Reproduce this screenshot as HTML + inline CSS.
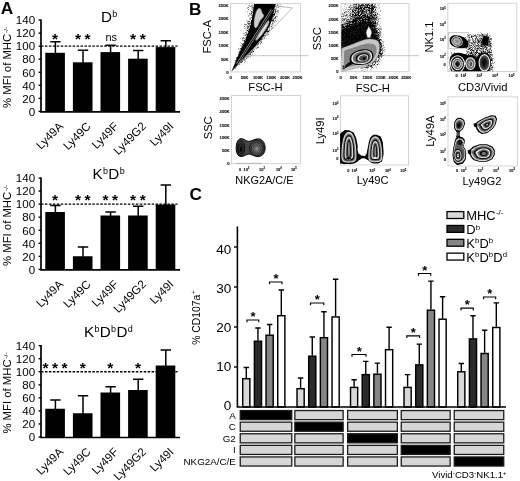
<!DOCTYPE html>
<html lang="en"><head><meta charset="utf-8"><title>Figure</title>
<style>
html,body{margin:0;padding:0;background:#fff;}
body{width:520px;height:481px;overflow:hidden;}
svg{display:block;font-family:"Liberation Sans", Arial, Helvetica, sans-serif;}
</style></head><body>
<svg width="520" height="481" viewBox="0 0 520 481">
<rect width="520" height="481" fill="#fff"/>
<g id="panelA">
<text transform="translate(0.80,14.10)" font-size="17.2" text-anchor="start" font-weight="bold" fill="#000">A</text>
<rect x="45.30" y="52.80" width="19.6" height="59.10" fill="#000"/>
<path d="M55.40 53.30V41.80M50.20 41.80H60.60" stroke="#000" stroke-width="1.5" fill="none"/>
<rect x="72.90" y="62.30" width="19.6" height="49.60" fill="#000"/>
<path d="M83.00 62.80V50.30M77.80 50.30H88.20" stroke="#000" stroke-width="1.5" fill="none"/>
<rect x="100.50" y="52.10" width="19.6" height="59.80" fill="#000"/>
<path d="M110.60 52.60V45.20M105.40 45.20H115.80" stroke="#000" stroke-width="1.5" fill="none"/>
<rect x="128.10" y="58.70" width="19.6" height="53.20" fill="#000"/>
<path d="M138.20 59.20V50.60M133.00 50.60H143.40" stroke="#000" stroke-width="1.5" fill="none"/>
<rect x="155.70" y="47.10" width="19.6" height="64.80" fill="#000"/>
<path d="M165.80 47.60V40.80M160.60 40.80H171.00" stroke="#000" stroke-width="1.5" fill="none"/>
<path d="M41.0 19.45V112.30M40.10 111.90H180" stroke="#000" stroke-width="1.7" fill="none"/>
<path d="M38.6 111.40H41.0" stroke="#000" stroke-width="1.4"/>
<text transform="translate(35.20,115.65) scale(1.15,1)" font-size="10.1" text-anchor="end" fill="#000">0</text>
<path d="M38.6 98.35H41.0" stroke="#000" stroke-width="1.4"/>
<text transform="translate(35.20,102.60) scale(1.15,1)" font-size="10.1" text-anchor="end" fill="#000">20</text>
<path d="M38.6 85.30H41.0" stroke="#000" stroke-width="1.4"/>
<text transform="translate(35.20,89.55) scale(1.15,1)" font-size="10.1" text-anchor="end" fill="#000">40</text>
<path d="M38.6 72.25H41.0" stroke="#000" stroke-width="1.4"/>
<text transform="translate(35.20,76.50) scale(1.15,1)" font-size="10.1" text-anchor="end" fill="#000">60</text>
<path d="M38.6 59.20H41.0" stroke="#000" stroke-width="1.4"/>
<text transform="translate(35.20,63.45) scale(1.15,1)" font-size="10.1" text-anchor="end" fill="#000">80</text>
<path d="M38.6 46.15H41.0" stroke="#000" stroke-width="1.4"/>
<text transform="translate(35.20,50.40) scale(1.15,1)" font-size="10.1" text-anchor="end" fill="#000">100</text>
<path d="M38.6 33.10H41.0" stroke="#000" stroke-width="1.4"/>
<text transform="translate(35.20,37.35) scale(1.15,1)" font-size="10.1" text-anchor="end" fill="#000">120</text>
<path d="M38.6 20.05H41.0" stroke="#000" stroke-width="1.4"/>
<text transform="translate(35.20,24.30) scale(1.15,1)" font-size="10.1" text-anchor="end" fill="#000">140</text>
<path d="M41.0 46.15H177.5" stroke="#000" stroke-width="1.3" stroke-dasharray="2.5 1.45" fill="none"/>
<text transform="translate(11.00,67.40) rotate(-90) scale(1.1,1)" font-size="10.3" text-anchor="middle" fill="#000">% MFI of MHC<tspan font-size="6" dx="0.7" dy="-3.5">-/-</tspan></text>
<text transform="translate(101.00,21.70)" font-size="15.2" text-anchor="start" fill="#000">D<tspan font-size="9" dx="0.35" dy="-4.6">b</tspan></text>
<text transform="translate(56.85,44.10)" font-size="15.5" text-anchor="middle" font-weight="bold" fill="#000" letter-spacing="3.5">*</text>
<text transform="translate(84.45,44.10)" font-size="15.5" text-anchor="middle" font-weight="bold" fill="#000" letter-spacing="3.5">**</text>
<text transform="translate(111.20,40.80)" font-size="11" text-anchor="middle" fill="#000">ns</text>
<text transform="translate(139.65,44.10)" font-size="15.5" text-anchor="middle" font-weight="bold" fill="#000" letter-spacing="3.5">**</text>
<text transform="translate(63.90,127.00) rotate(-45)" font-size="11.6" text-anchor="end" fill="#000">Ly49A</text>
<text transform="translate(91.50,127.00) rotate(-45)" font-size="11.6" text-anchor="end" fill="#000">Ly49C</text>
<text transform="translate(119.10,127.00) rotate(-45)" font-size="11.6" text-anchor="end" fill="#000">Ly49F</text>
<text transform="translate(146.70,127.00) rotate(-45)" font-size="11.6" text-anchor="end" fill="#000">Ly49G2</text>
<text transform="translate(174.30,127.00) rotate(-45)" font-size="11.6" text-anchor="end" fill="#000">Ly49I</text>
<rect x="45.30" y="212.00" width="19.6" height="57.90" fill="#000"/>
<path d="M55.40 212.50V205.40M50.20 205.40H60.60" stroke="#000" stroke-width="1.5" fill="none"/>
<rect x="72.90" y="256.25" width="19.6" height="13.65" fill="#000"/>
<path d="M83.00 256.75V247.00M77.80 247.00H88.20" stroke="#000" stroke-width="1.5" fill="none"/>
<rect x="100.50" y="215.50" width="19.6" height="54.40" fill="#000"/>
<path d="M110.60 216.00V212.00M105.40 212.00H115.80" stroke="#000" stroke-width="1.5" fill="none"/>
<rect x="128.10" y="215.50" width="19.6" height="54.40" fill="#000"/>
<path d="M138.20 216.00V206.25M133.00 206.25H143.40" stroke="#000" stroke-width="1.5" fill="none"/>
<rect x="155.70" y="204.50" width="19.6" height="65.40" fill="#000"/>
<path d="M165.80 205.00V185.00M160.60 185.00H171.00" stroke="#000" stroke-width="1.5" fill="none"/>
<path d="M41.0 177.45V270.30M40.10 269.90H180" stroke="#000" stroke-width="1.7" fill="none"/>
<path d="M38.6 269.40H41.0" stroke="#000" stroke-width="1.4"/>
<text transform="translate(35.20,273.65) scale(1.15,1)" font-size="10.1" text-anchor="end" fill="#000">0</text>
<path d="M38.6 256.35H41.0" stroke="#000" stroke-width="1.4"/>
<text transform="translate(35.20,260.60) scale(1.15,1)" font-size="10.1" text-anchor="end" fill="#000">20</text>
<path d="M38.6 243.30H41.0" stroke="#000" stroke-width="1.4"/>
<text transform="translate(35.20,247.55) scale(1.15,1)" font-size="10.1" text-anchor="end" fill="#000">40</text>
<path d="M38.6 230.25H41.0" stroke="#000" stroke-width="1.4"/>
<text transform="translate(35.20,234.50) scale(1.15,1)" font-size="10.1" text-anchor="end" fill="#000">60</text>
<path d="M38.6 217.20H41.0" stroke="#000" stroke-width="1.4"/>
<text transform="translate(35.20,221.45) scale(1.15,1)" font-size="10.1" text-anchor="end" fill="#000">80</text>
<path d="M38.6 204.15H41.0" stroke="#000" stroke-width="1.4"/>
<text transform="translate(35.20,208.40) scale(1.15,1)" font-size="10.1" text-anchor="end" fill="#000">100</text>
<path d="M38.6 191.10H41.0" stroke="#000" stroke-width="1.4"/>
<text transform="translate(35.20,195.35) scale(1.15,1)" font-size="10.1" text-anchor="end" fill="#000">120</text>
<path d="M38.6 178.05H41.0" stroke="#000" stroke-width="1.4"/>
<text transform="translate(35.20,182.30) scale(1.15,1)" font-size="10.1" text-anchor="end" fill="#000">140</text>
<path d="M41.0 204.15H177.5" stroke="#000" stroke-width="1.3" stroke-dasharray="2.5 1.45" fill="none"/>
<text transform="translate(11.00,225.40) rotate(-90) scale(1.1,1)" font-size="10.3" text-anchor="middle" fill="#000">% MFI of MHC<tspan font-size="6" dx="0.7" dy="-3.5">-/-</tspan></text>
<text transform="translate(92.50,179.00)" font-size="15.2" text-anchor="start" fill="#000">K<tspan font-size="9" dx="0.35" dy="-4.6">b</tspan><tspan dx="0.35" dy="4.6">&#8203;</tspan>D<tspan font-size="9" dx="0.35" dy="-4.6">b</tspan></text>
<text transform="translate(56.85,204.50)" font-size="15.5" text-anchor="middle" font-weight="bold" fill="#000" letter-spacing="3.5">*</text>
<text transform="translate(84.45,204.50)" font-size="15.5" text-anchor="middle" font-weight="bold" fill="#000" letter-spacing="3.5">**</text>
<text transform="translate(112.05,204.50)" font-size="15.5" text-anchor="middle" font-weight="bold" fill="#000" letter-spacing="3.5">**</text>
<text transform="translate(139.65,204.50)" font-size="15.5" text-anchor="middle" font-weight="bold" fill="#000" letter-spacing="3.5">**</text>
<text transform="translate(63.90,285.00) rotate(-45)" font-size="11.6" text-anchor="end" fill="#000">Ly49A</text>
<text transform="translate(91.50,285.00) rotate(-45)" font-size="11.6" text-anchor="end" fill="#000">Ly49C</text>
<text transform="translate(119.10,285.00) rotate(-45)" font-size="11.6" text-anchor="end" fill="#000">Ly49F</text>
<text transform="translate(146.70,285.00) rotate(-45)" font-size="11.6" text-anchor="end" fill="#000">Ly49G2</text>
<text transform="translate(174.30,285.00) rotate(-45)" font-size="11.6" text-anchor="end" fill="#000">Ly49I</text>
<rect x="45.30" y="408.75" width="19.6" height="28.75" fill="#000"/>
<path d="M55.40 409.25V400.00M50.20 400.00H60.60" stroke="#000" stroke-width="1.5" fill="none"/>
<rect x="72.90" y="413.25" width="19.6" height="24.25" fill="#000"/>
<path d="M83.00 413.75V395.75M77.80 395.75H88.20" stroke="#000" stroke-width="1.5" fill="none"/>
<rect x="100.50" y="392.50" width="19.6" height="45.00" fill="#000"/>
<path d="M110.60 393.00V386.75M105.40 386.75H115.80" stroke="#000" stroke-width="1.5" fill="none"/>
<rect x="128.10" y="390.00" width="19.6" height="47.50" fill="#000"/>
<path d="M138.20 390.50V379.25M133.00 379.25H143.40" stroke="#000" stroke-width="1.5" fill="none"/>
<rect x="155.70" y="365.50" width="19.6" height="72.00" fill="#000"/>
<path d="M165.80 366.00V350.00M160.60 350.00H171.00" stroke="#000" stroke-width="1.5" fill="none"/>
<path d="M41.0 345.05V437.90M40.10 437.50H180" stroke="#000" stroke-width="1.7" fill="none"/>
<path d="M38.6 437.00H41.0" stroke="#000" stroke-width="1.4"/>
<text transform="translate(35.20,441.25) scale(1.15,1)" font-size="10.1" text-anchor="end" fill="#000">0</text>
<path d="M38.6 423.95H41.0" stroke="#000" stroke-width="1.4"/>
<text transform="translate(35.20,428.20) scale(1.15,1)" font-size="10.1" text-anchor="end" fill="#000">20</text>
<path d="M38.6 410.90H41.0" stroke="#000" stroke-width="1.4"/>
<text transform="translate(35.20,415.15) scale(1.15,1)" font-size="10.1" text-anchor="end" fill="#000">40</text>
<path d="M38.6 397.85H41.0" stroke="#000" stroke-width="1.4"/>
<text transform="translate(35.20,402.10) scale(1.15,1)" font-size="10.1" text-anchor="end" fill="#000">60</text>
<path d="M38.6 384.80H41.0" stroke="#000" stroke-width="1.4"/>
<text transform="translate(35.20,389.05) scale(1.15,1)" font-size="10.1" text-anchor="end" fill="#000">80</text>
<path d="M38.6 371.75H41.0" stroke="#000" stroke-width="1.4"/>
<text transform="translate(35.20,376.00) scale(1.15,1)" font-size="10.1" text-anchor="end" fill="#000">100</text>
<path d="M38.6 358.70H41.0" stroke="#000" stroke-width="1.4"/>
<text transform="translate(35.20,362.95) scale(1.15,1)" font-size="10.1" text-anchor="end" fill="#000">120</text>
<path d="M38.6 345.65H41.0" stroke="#000" stroke-width="1.4"/>
<text transform="translate(35.20,349.90) scale(1.15,1)" font-size="10.1" text-anchor="end" fill="#000">140</text>
<path d="M41.0 371.75H177.5" stroke="#000" stroke-width="1.3" stroke-dasharray="2.5 1.45" fill="none"/>
<text transform="translate(11.00,393.00) rotate(-90) scale(1.1,1)" font-size="10.3" text-anchor="middle" fill="#000">% MFI of MHC<tspan font-size="6" dx="0.7" dy="-3.5">-/-</tspan></text>
<text transform="translate(83.90,336.80)" font-size="15.2" text-anchor="start" fill="#000">K<tspan font-size="9" dx="0.35" dy="-4.6">b</tspan><tspan dx="0.35" dy="4.6">&#8203;</tspan>D<tspan font-size="9" dx="0.35" dy="-4.6">b</tspan><tspan dx="0.35" dy="4.6">&#8203;</tspan>D<tspan font-size="9" dx="0.35" dy="-4.6">d</tspan></text>
<text transform="translate(56.85,372.50)" font-size="15.5" text-anchor="middle" font-weight="bold" fill="#000" letter-spacing="3.5">***</text>
<text transform="translate(84.45,372.50)" font-size="15.5" text-anchor="middle" font-weight="bold" fill="#000" letter-spacing="3.5">*</text>
<text transform="translate(112.05,372.50)" font-size="15.5" text-anchor="middle" font-weight="bold" fill="#000" letter-spacing="3.5">*</text>
<text transform="translate(139.65,372.50)" font-size="15.5" text-anchor="middle" font-weight="bold" fill="#000" letter-spacing="3.5">*</text>
<text transform="translate(63.90,452.60) rotate(-45)" font-size="11.6" text-anchor="end" fill="#000">Ly49A</text>
<text transform="translate(91.50,452.60) rotate(-45)" font-size="11.6" text-anchor="end" fill="#000">Ly49C</text>
<text transform="translate(119.10,452.60) rotate(-45)" font-size="11.6" text-anchor="end" fill="#000">Ly49F</text>
<text transform="translate(146.70,452.60) rotate(-45)" font-size="11.6" text-anchor="end" fill="#000">Ly49G2</text>
<text transform="translate(174.30,452.60) rotate(-45)" font-size="11.6" text-anchor="end" fill="#000">Ly49I</text>
</g>
<g id="panelC">
<text transform="translate(189.60,200.10)" font-size="17.2" text-anchor="start" font-weight="bold" fill="#000">C</text>
<path d="M246.29 378.00V367.50M243.59 367.50H248.99" stroke="#000" stroke-width="1.4" fill="none"/>
<rect x="242.72" y="378.70" width="7.15" height="28.30" fill="#d9d9d9" stroke="#000" stroke-width="1.45"/>
<path d="M257.96 340.50V328.00M255.26 328.00H260.66" stroke="#000" stroke-width="1.4" fill="none"/>
<rect x="254.39" y="341.20" width="7.15" height="65.80" fill="#2b2b2b" stroke="#000" stroke-width="1.45"/>
<path d="M269.63 334.50V324.50M266.94 324.50H272.33" stroke="#000" stroke-width="1.4" fill="none"/>
<rect x="266.06" y="335.20" width="7.15" height="71.80" fill="#858585" stroke="#000" stroke-width="1.45"/>
<path d="M281.31 315.00V290.00M278.61 290.00H284.00" stroke="#000" stroke-width="1.4" fill="none"/>
<rect x="277.73" y="315.70" width="7.15" height="91.30" fill="#ffffff" stroke="#000" stroke-width="1.45"/>
<path d="M300.60 388.00V378.00M297.90 378.00H303.30" stroke="#000" stroke-width="1.4" fill="none"/>
<rect x="297.02" y="388.70" width="7.15" height="18.30" fill="#d9d9d9" stroke="#000" stroke-width="1.45"/>
<path d="M312.27 355.50V337.00M309.57 337.00H314.97" stroke="#000" stroke-width="1.4" fill="none"/>
<rect x="308.69" y="356.20" width="7.15" height="50.80" fill="#2b2b2b" stroke="#000" stroke-width="1.45"/>
<path d="M323.94 337.00V311.75M321.24 311.75H326.63" stroke="#000" stroke-width="1.4" fill="none"/>
<rect x="320.36" y="337.70" width="7.15" height="69.30" fill="#858585" stroke="#000" stroke-width="1.45"/>
<path d="M335.61 316.25V279.25M332.91 279.25H338.31" stroke="#000" stroke-width="1.4" fill="none"/>
<rect x="332.03" y="316.95" width="7.15" height="90.05" fill="#ffffff" stroke="#000" stroke-width="1.45"/>
<path d="M354.10 386.70V379.80M351.40 379.80H356.80" stroke="#000" stroke-width="1.4" fill="none"/>
<rect x="350.52" y="387.40" width="7.15" height="19.60" fill="#d9d9d9" stroke="#000" stroke-width="1.45"/>
<path d="M365.77 373.90V361.40M363.07 361.40H368.47" stroke="#000" stroke-width="1.4" fill="none"/>
<rect x="362.19" y="374.60" width="7.15" height="32.40" fill="#2b2b2b" stroke="#000" stroke-width="1.45"/>
<path d="M377.44 373.50V363.10M374.74 363.10H380.13" stroke="#000" stroke-width="1.4" fill="none"/>
<rect x="373.86" y="374.20" width="7.15" height="32.80" fill="#858585" stroke="#000" stroke-width="1.45"/>
<path d="M389.11 349.00V327.20M386.41 327.20H391.81" stroke="#000" stroke-width="1.4" fill="none"/>
<rect x="385.53" y="349.70" width="7.15" height="57.30" fill="#ffffff" stroke="#000" stroke-width="1.45"/>
<path d="M407.60 386.70V374.60M404.90 374.60H410.30" stroke="#000" stroke-width="1.4" fill="none"/>
<rect x="404.02" y="387.40" width="7.15" height="19.60" fill="#d9d9d9" stroke="#000" stroke-width="1.45"/>
<path d="M419.27 364.20V344.10M416.57 344.10H421.97" stroke="#000" stroke-width="1.4" fill="none"/>
<rect x="415.69" y="364.90" width="7.15" height="42.10" fill="#2b2b2b" stroke="#000" stroke-width="1.45"/>
<path d="M430.94 309.50V281.10M428.24 281.10H433.63" stroke="#000" stroke-width="1.4" fill="none"/>
<rect x="427.36" y="310.20" width="7.15" height="96.80" fill="#858585" stroke="#000" stroke-width="1.45"/>
<path d="M442.61 318.50V296.70M439.91 296.70H445.31" stroke="#000" stroke-width="1.4" fill="none"/>
<rect x="439.03" y="319.20" width="7.15" height="87.80" fill="#ffffff" stroke="#000" stroke-width="1.45"/>
<path d="M461.30 371.10V363.50M458.60 363.50H464.00" stroke="#000" stroke-width="1.4" fill="none"/>
<rect x="457.72" y="371.80" width="7.15" height="35.20" fill="#d9d9d9" stroke="#000" stroke-width="1.45"/>
<path d="M472.97 338.20V315.70M470.27 315.70H475.67" stroke="#000" stroke-width="1.4" fill="none"/>
<rect x="469.39" y="338.90" width="7.15" height="68.10" fill="#2b2b2b" stroke="#000" stroke-width="1.45"/>
<path d="M484.63 352.80V330.30M481.94 330.30H487.33" stroke="#000" stroke-width="1.4" fill="none"/>
<rect x="481.06" y="353.50" width="7.15" height="53.50" fill="#858585" stroke="#000" stroke-width="1.45"/>
<path d="M496.31 326.80V302.90M493.61 302.90H499.00" stroke="#000" stroke-width="1.4" fill="none"/>
<rect x="492.73" y="327.50" width="7.15" height="79.50" fill="#ffffff" stroke="#000" stroke-width="1.45"/>
<path d="M237.4 226.5V407.80M236.60 407.0H506" stroke="#000" stroke-width="1.6" fill="none"/>
<text transform="translate(231.40,409.75) scale(1.07,1)" font-size="12.7" text-anchor="end" fill="#000">0</text>
<path d="M234 367.00H237.4" stroke="#000" stroke-width="1.4"/>
<text transform="translate(231.40,370.75) scale(1.07,1)" font-size="12.7" text-anchor="end" fill="#000">10</text>
<path d="M234 327.00H237.4" stroke="#000" stroke-width="1.4"/>
<text transform="translate(231.40,331.75) scale(1.07,1)" font-size="12.7" text-anchor="end" fill="#000">20</text>
<path d="M234 287.00H237.4" stroke="#000" stroke-width="1.4"/>
<text transform="translate(231.40,292.75) scale(1.07,1)" font-size="12.7" text-anchor="end" fill="#000">30</text>
<path d="M234 247.00H237.4" stroke="#000" stroke-width="1.4"/>
<text transform="translate(231.40,253.75) scale(1.07,1)" font-size="12.7" text-anchor="end" fill="#000">40</text>
<text transform="translate(199.60,317.50) rotate(-90)" font-size="10.4" text-anchor="middle" fill="#000">% CD107a<tspan font-size="6.5" dx="0.7" dy="-3.5">+</tspan></text>
<path d="M247.00 322.30V320.00H258.75V322.30" stroke="#000" stroke-width="1.15" fill="none"/>
<text transform="translate(253.07,321.20)" font-size="13" text-anchor="middle" font-weight="bold" fill="#000">*</text>
<path d="M269.50 284.30V282.00H282.00V284.30" stroke="#000" stroke-width="1.15" fill="none"/>
<text transform="translate(275.95,283.20)" font-size="13" text-anchor="middle" font-weight="bold" fill="#000">*</text>
<path d="M310.50 305.30V303.00H323.75V305.30" stroke="#000" stroke-width="1.15" fill="none"/>
<text transform="translate(317.32,304.20)" font-size="13" text-anchor="middle" font-weight="bold" fill="#000">*</text>
<path d="M352.00 356.80V354.50H366.00V356.80" stroke="#000" stroke-width="1.15" fill="none"/>
<text transform="translate(359.20,355.70)" font-size="13" text-anchor="middle" font-weight="bold" fill="#000">*</text>
<path d="M406.80 338.10V335.80H419.60V338.10" stroke="#000" stroke-width="1.15" fill="none"/>
<text transform="translate(413.40,337.00)" font-size="13" text-anchor="middle" font-weight="bold" fill="#000">*</text>
<path d="M418.50 275.80V273.50H430.70V275.80" stroke="#000" stroke-width="1.15" fill="none"/>
<text transform="translate(424.80,274.70)" font-size="13" text-anchor="middle" font-weight="bold" fill="#000">*</text>
<path d="M461.00 310.40V308.10H473.20V310.40" stroke="#000" stroke-width="1.15" fill="none"/>
<text transform="translate(467.30,309.30)" font-size="13" text-anchor="middle" font-weight="bold" fill="#000">*</text>
<path d="M483.60 299.30V297.00H495.70V299.30" stroke="#000" stroke-width="1.15" fill="none"/>
<text transform="translate(489.85,298.20)" font-size="13" text-anchor="middle" font-weight="bold" fill="#000">*</text>
<rect x="447" y="211.60" width="16.8" height="6.9" fill="#d9d9d9" stroke="#000" stroke-width="1.3"/>
<text transform="translate(466.30,220.00)" font-size="12.9" text-anchor="start" fill="#000">MHC<tspan font-size="8" dx="0.3" dy="-4.8">-/-</tspan></text>
<rect x="447" y="225.45" width="16.8" height="6.9" fill="#2b2b2b" stroke="#000" stroke-width="1.3"/>
<text transform="translate(466.30,233.85)" font-size="12.9" text-anchor="start" fill="#000">D<tspan font-size="7.8" dx="0.1" dy="-4.3">b</tspan></text>
<rect x="447" y="239.30" width="16.8" height="6.9" fill="#858585" stroke="#000" stroke-width="1.3"/>
<text transform="translate(466.30,247.70)" font-size="12.9" text-anchor="start" fill="#000">K<tspan font-size="7.8" dx="0.1" dy="-4.3">b</tspan><tspan dx="0.1" dy="4.3">&#8203;</tspan>D<tspan font-size="7.8" dx="0.1" dy="-4.3">b</tspan></text>
<rect x="447" y="253.15" width="16.8" height="6.9" fill="#ffffff" stroke="#000" stroke-width="1.3"/>
<text transform="translate(466.30,261.55)" font-size="12.9" text-anchor="start" fill="#000">K<tspan font-size="7.8" dx="0.1" dy="-4.3">b</tspan><tspan dx="0.1" dy="4.3">&#8203;</tspan>D<tspan font-size="7.8" dx="0.1" dy="-4.3">b</tspan><tspan dx="0.1" dy="4.3">&#8203;</tspan>D<tspan font-size="7.8" dx="0.1" dy="-4.3">d</tspan></text>
<text transform="translate(235.80,418.50)" font-size="9.8" text-anchor="end" fill="#000">A</text>
<rect x="240.25" y="410.55" width="51.50" height="9.1" fill="#000" stroke="#1c1c1c" stroke-width="1.3"/>
<rect x="294.85" y="410.55" width="48.30" height="9.1" fill="#d6d6d6" stroke="#1c1c1c" stroke-width="1.3"/>
<rect x="347.65" y="410.55" width="49.70" height="9.1" fill="#d6d6d6" stroke="#1c1c1c" stroke-width="1.3"/>
<rect x="401.25" y="410.55" width="48.90" height="9.1" fill="#d6d6d6" stroke="#1c1c1c" stroke-width="1.3"/>
<rect x="454.25" y="410.55" width="49.50" height="9.1" fill="#d6d6d6" stroke="#1c1c1c" stroke-width="1.3"/>
<text transform="translate(235.80,430.10)" font-size="9.8" text-anchor="end" fill="#000">C</text>
<rect x="240.25" y="422.15" width="51.50" height="9.1" fill="#d6d6d6" stroke="#1c1c1c" stroke-width="1.3"/>
<rect x="294.85" y="422.15" width="48.30" height="9.1" fill="#000" stroke="#1c1c1c" stroke-width="1.3"/>
<rect x="347.65" y="422.15" width="49.70" height="9.1" fill="#d6d6d6" stroke="#1c1c1c" stroke-width="1.3"/>
<rect x="401.25" y="422.15" width="48.90" height="9.1" fill="#d6d6d6" stroke="#1c1c1c" stroke-width="1.3"/>
<rect x="454.25" y="422.15" width="49.50" height="9.1" fill="#d6d6d6" stroke="#1c1c1c" stroke-width="1.3"/>
<text transform="translate(235.80,441.70)" font-size="9.8" text-anchor="end" fill="#000">G2</text>
<rect x="240.25" y="433.75" width="51.50" height="9.1" fill="#d6d6d6" stroke="#1c1c1c" stroke-width="1.3"/>
<rect x="294.85" y="433.75" width="48.30" height="9.1" fill="#d6d6d6" stroke="#1c1c1c" stroke-width="1.3"/>
<rect x="347.65" y="433.75" width="49.70" height="9.1" fill="#000" stroke="#1c1c1c" stroke-width="1.3"/>
<rect x="401.25" y="433.75" width="48.90" height="9.1" fill="#d6d6d6" stroke="#1c1c1c" stroke-width="1.3"/>
<rect x="454.25" y="433.75" width="49.50" height="9.1" fill="#d6d6d6" stroke="#1c1c1c" stroke-width="1.3"/>
<text transform="translate(235.80,453.30)" font-size="9.8" text-anchor="end" fill="#000">I</text>
<rect x="240.25" y="445.35" width="51.50" height="9.1" fill="#d6d6d6" stroke="#1c1c1c" stroke-width="1.3"/>
<rect x="294.85" y="445.35" width="48.30" height="9.1" fill="#d6d6d6" stroke="#1c1c1c" stroke-width="1.3"/>
<rect x="347.65" y="445.35" width="49.70" height="9.1" fill="#d6d6d6" stroke="#1c1c1c" stroke-width="1.3"/>
<rect x="401.25" y="445.35" width="48.90" height="9.1" fill="#000" stroke="#1c1c1c" stroke-width="1.3"/>
<rect x="454.25" y="445.35" width="49.50" height="9.1" fill="#d6d6d6" stroke="#1c1c1c" stroke-width="1.3"/>
<text transform="translate(235.80,464.90)" font-size="9.8" text-anchor="end" fill="#000">NKG2A/C/E</text>
<rect x="240.25" y="456.95" width="51.50" height="9.1" fill="#d6d6d6" stroke="#1c1c1c" stroke-width="1.3"/>
<rect x="294.85" y="456.95" width="48.30" height="9.1" fill="#d6d6d6" stroke="#1c1c1c" stroke-width="1.3"/>
<rect x="347.65" y="456.95" width="49.70" height="9.1" fill="#d6d6d6" stroke="#1c1c1c" stroke-width="1.3"/>
<rect x="401.25" y="456.95" width="48.90" height="9.1" fill="#d6d6d6" stroke="#1c1c1c" stroke-width="1.3"/>
<rect x="454.25" y="456.95" width="49.50" height="9.1" fill="#000" stroke="#1c1c1c" stroke-width="1.3"/>
<text transform="translate(506.60,478.00)" font-size="9.6" text-anchor="end" fill="#000">Vivid<tspan font-size="6" dx="0.1" dy="-3.5">-</tspan><tspan dx="0.1" dy="3.5">&#8203;</tspan>CD3<tspan font-size="6" dx="0.1" dy="-3.5">-</tspan><tspan dx="0.1" dy="3.5">&#8203;</tspan>NK1.1<tspan font-size="6" dx="0.1" dy="-3.5">+</tspan></text>
</g>
<g id="panelB">
<text transform="translate(188.90,15.10)" font-size="17.2" text-anchor="start" font-weight="bold" fill="#000">B</text>
<defs>
<filter id="st" x="-30%" y="-30%" width="160%" height="160%" color-interpolation-filters="sRGB">
<feGaussianBlur in="SourceAlpha" stdDeviation="1.6" result="d"/>
<feTurbulence type="fractalNoise" baseFrequency="1.7" numOctaves="1" seed="7" result="n"/>
<feColorMatrix in="n" type="matrix" values="0 0 0 0 0 0 0 0 0 0 0 0 0 0 0 1.5 0 0 0 -0.25" result="na"/>
<feComposite in="d" in2="na" operator="arithmetic" k1="0" k2="1" k3="1" k4="-1" result="s"/>
<feComponentTransfer in="s" result="t"><feFuncA type="linear" slope="2.0" intercept="0"/></feComponentTransfer>
<feGaussianBlur in="t" stdDeviation="0.33"/>
</filter>
<filter id="b1"><feGaussianBlur stdDeviation="0.5"/></filter>
<filter id="b2"><feGaussianBlur stdDeviation="0.9"/></filter>
</defs>
<rect x="230.5" y="3.6" width="69.90" height="68.30" fill="#fff" stroke="#cfcfcf" stroke-width="0.9"/>
<clipPath id="c1"><rect x="230.8" y="3.9" width="69.30" height="67.70"/></clipPath>
<g clip-path="url(#c1)">
<g filter="url(#st)">
<path d="M231 72L236 53L241.5 35L245.5 17L246.5 0L284 0L281 12L274.5 27L266.5 39.5L255 53.5L240.5 67Z" fill="#000" fill-opacity="0.5"/>
<path d="M231.6 71.5L239.2 52L245.8 34.6L250.8 17.3L253 0L278 0L276.2 17.3L271.8 26L266.3 35L253.2 52.2L236 68Z" fill="#000" fill-opacity="0.5"/>
</g>
<path d="M231.4 71.6L240.3 50.5L245 41.2L248.4 32L251.3 22.8L253 13.5L254.2 3L275.6 3L273.4 13.5L271 22.8L266.9 30.8L261.2 38.9L252 50.5L233.7 69.6Z" fill="#000" filter="url(#b1)"/>
<path d="M259.3 8.2C261 8.4 261.4 10.5 262 12.5C262.6 14 264 14.6 263.8 16C263 18 260.6 19.5 259.4 22C258.2 24.5 257.6 27.6 255.6 28C254 27.6 253.8 24 254.2 21C254.6 17 255.4 13.5 256.6 11C257.4 9.4 258.2 8.2 259.3 8.2Z" fill="#cfcfcf" stroke="#8a8a8a" stroke-width="0.5" filter="url(#b1)"/>
<path d="M268.4 20.2C269.6 20.6 269.2 23 268 25.5C265.6 30 261 36.5 256.6 40.4C255.4 40.8 255.4 39.4 256.6 37.4C259.6 32.4 264.6 24.6 268.4 20.2Z" fill="#bdbdbd" stroke="#888" stroke-width="0.5" filter="url(#b1)"/>
<path d="M266.8 24.5L259 36.5" stroke="#efefef" stroke-width="1.1" fill="none" filter="url(#b1)"/>
<path d="M271.5 8.9L245 50.5L236.5 64" stroke="#e6e6e6" stroke-width="0.6" fill="none"/>
<path d="M273 9.6L246.6 51L238 64.5" stroke="#d0d0d0" stroke-width="0.55" fill="none"/>
<path d="M262 40.5L250.5 53L240 63.5" stroke="#bbb" stroke-width="0.5" fill="none"/>
</g>
<path d="M231.8 71L292.5 7.8L277.6 6.4" stroke="#a6a6a6" stroke-width="0.75" fill="none"/>
<path d="M246.5 55.7H308.5" stroke="#b4b4b4" stroke-width="0.8" fill="none"/>
<text transform="translate(228.60,7.10)" font-size="4.2" text-anchor="end" font-weight="bold" fill="#111" stroke="#111" stroke-width="0.12">250K</text>
<text transform="translate(228.60,20.40)" font-size="4.2" text-anchor="end" font-weight="bold" fill="#111" stroke="#111" stroke-width="0.12">200K</text>
<text transform="translate(228.60,33.90)" font-size="4.2" text-anchor="end" font-weight="bold" fill="#111" stroke="#111" stroke-width="0.12">150K</text>
<text transform="translate(228.60,47.30)" font-size="4.2" text-anchor="end" font-weight="bold" fill="#111" stroke="#111" stroke-width="0.12">100K</text>
<text transform="translate(228.60,60.70)" font-size="4.2" text-anchor="end" font-weight="bold" fill="#111" stroke="#111" stroke-width="0.12">50K</text>
<text transform="translate(228.60,73.50)" font-size="4.2" text-anchor="end" font-weight="bold" fill="#111" stroke="#111" stroke-width="0.12">0</text>
<text transform="translate(230.60,79.40)" font-size="4.2" text-anchor="middle" font-weight="bold" fill="#111" stroke="#111" stroke-width="0.12">0</text>
<text transform="translate(244.50,79.40)" font-size="4.2" text-anchor="middle" font-weight="bold" fill="#111" stroke="#111" stroke-width="0.12">50K</text>
<text transform="translate(258.00,79.40)" font-size="4.2" text-anchor="middle" font-weight="bold" fill="#111" stroke="#111" stroke-width="0.12">100K</text>
<text transform="translate(271.30,79.40)" font-size="4.2" text-anchor="middle" font-weight="bold" fill="#111" stroke="#111" stroke-width="0.12">150K</text>
<text transform="translate(285.00,79.40)" font-size="4.2" text-anchor="middle" font-weight="bold" fill="#111" stroke="#111" stroke-width="0.12">200K</text>
<text transform="translate(297.60,79.40)" font-size="4.2" text-anchor="middle" font-weight="bold" fill="#111" stroke="#111" stroke-width="0.12">250K</text>
<text transform="translate(211.30,36.80) rotate(-90)" font-size="11.2" text-anchor="middle" fill="#000">FSC-A</text>
<text transform="translate(265.40,91.30)" font-size="11.2" text-anchor="middle" fill="#000">FSC-H</text>
<rect x="341.1" y="3.5" width="67.90" height="68.20" fill="#fff" stroke="#cfcfcf" stroke-width="0.9"/>
<clipPath id="c2"><rect x="341.40000000000003" y="3.8" width="67.30" height="67.60"/></clipPath>
<path d="M381.7 55.7H419" stroke="#b4b4b4" stroke-width="0.8" fill="none"/>
<g clip-path="url(#c2)">
<g filter="url(#st)">
<path d="M338 0L380.5 0L383 20L385.5 40L386.5 52L384 62L378 68.5L363 74L338 76Z" fill="#000" fill-opacity="0.4"/>
<path d="M338 17L347 8L355 0L374.5 0L377.5 15L380.5 30L382.5 45L381.5 57L338 62Z" fill="#000" fill-opacity="0.4"/>
<path d="M338 27L349 21L359 17L371.5 16L375.5 27L379.5 38L381.5 49L380 57L338 58Z" fill="#000" fill-opacity="0.85"/>
<path d="M356 0L374 0L376.5 14L377 24L351 24Z" fill="#000" fill-opacity="0.62"/>
<path d="M374 36L380 38L383.5 46L383.5 54L380 62L374 67L362 70L362 60L376 56Z" fill="#000" fill-opacity="0.5"/>
</g>
<path d="M340 31L349 26L359 22L371 21L375 30L378.6 39L379.5 47L340 52Z" fill="#000" fill-opacity="0.82" filter="url(#b2)"/>
<path d="M341 48.8C345 46.8 349 45.4 352.3 44.3C358 42.2 363 39.8 367.9 39.1C371 38.7 373 38.9 374.8 39.6C376.8 40.2 377.8 40.8 378.3 41.7C379.4 43.2 379.7 45.2 379.6 46.9C379.8 48.8 379.6 50.4 379.1 52.1C378.2 55.6 376.8 58.2 374.8 60.8C371 64.4 366.5 65.8 361 66.8C355 68.2 349 69.8 343.7 71.1L341 71.8Z" fill="#c6c6c6" stroke="#666" stroke-width="0.4"/>
<path d="M341 48.8C345 46.8 349 45.4 352.3 44.3C358 42.2 363 39.8 367.9 39.1C371 38.7 373 38.9 374.8 39.6C376.8 40.2 377.8 40.8 378.3 41.7C379.4 43.2 379.7 45.2 379.6 46.9C379.8 48.8 379.6 50.4 379.1 52.1C378.2 55.6 376.8 58.2 374.8 60.8C371 64.4 366.5 65.8 361 66.8C355 68.2 349 69.8 343.7 71.1L341 71.8Z" fill="#858585" transform="translate(360.5 56.8) scale(0.84 0.74) translate(-360.5 -56.8)" filter="url(#b2)"/>
<path d="M351.4 60.6C348 63 345 65.6 342.2 68.6L343.4 69.6C346.4 67.4 350 65.4 353.6 63.6Z" fill="#111"/>
<path d="M351 57C352 53 358 50.5 364 50C369 49.6 372.6 52 372.6 56C372.6 60 370 63 365 64C360 64.8 354 64.6 351.6 61.8C350.6 60.4 350.6 58.5 351 57Z" fill="#0c0c0c" stroke="none" stroke-width="0.5" transform="translate(362.5 57.5) scale(1.09) translate(-362.5 -57.5)"/>
<path d="M351 57C352 53 358 50.5 364 50C369 49.6 372.6 52 372.6 56C372.6 60 370 63 365 64C360 64.8 354 64.6 351.6 61.8C350.6 60.4 350.6 58.5 351 57Z" fill="#ececec" stroke="none" stroke-width="0.5" transform="translate(362.5 57.5) scale(0.95) translate(-362.5 -57.5)"/>
<path d="M351 57C352 53 358 50.5 364 50C369 49.6 372.6 52 372.6 56C372.6 60 370 63 365 64C360 64.8 354 64.6 351.6 61.8C350.6 60.4 350.6 58.5 351 57Z" fill="#6e6e6e" stroke="none" stroke-width="0.5" transform="translate(362.5 57.5) scale(0.82) translate(-362.5 -57.5)"/>
<path d="M351 57C352 53 358 50.5 364 50C369 49.6 372.6 52 372.6 56C372.6 60 370 63 365 64C360 64.8 354 64.6 351.6 61.8C350.6 60.4 350.6 58.5 351 57Z" fill="#0e0e0e" stroke="none" stroke-width="0.5" transform="translate(363 57.8) scale(0.63) translate(-362.5 -57.5)"/>
<path d="M351 57C352 53 358 50.5 364 50C369 49.6 372.6 52 372.6 56C372.6 60 370 63 365 64C360 64.8 354 64.6 351.6 61.8C350.6 60.4 350.6 58.5 351 57Z" fill="#dcdcdc" stroke="none" stroke-width="0.5" transform="translate(363.3 58) scale(0.5) translate(-362.5 -57.5)"/>
<path d="M351 57C352 53 358 50.5 364 50C369 49.6 372.6 52 372.6 56C372.6 60 370 63 365 64C360 64.8 354 64.6 351.6 61.8C350.6 60.4 350.6 58.5 351 57Z" fill="#4a4a4a" stroke="none" stroke-width="0.5" transform="translate(363.5 58.2) scale(0.38) translate(-362.5 -57.5)"/>
<ellipse cx="364.20" cy="58.60" rx="1.30" ry="1.70" fill="#000" stroke="none" stroke-width="0.5" transform="rotate(25 364.20 58.60)"/>
<ellipse cx="343.60" cy="66.40" rx="1.30" ry="1.50" fill="#222" stroke="#d8d8d8" stroke-width="0.5"/>
<path d="M368.8 26.2C369.6 28.4 371.4 30 371.6 32.4C371.6 34 370.4 34.8 370.2 37.6L367.4 37.6C367.4 35.4 366.2 34.6 366.3 32.6C366.5 30 368.2 28.6 368.8 26.2Z" fill="#f6f6f6" stroke="#bbb" stroke-width="0.3"/>
</g>
<text transform="translate(338.60,7.30)" font-size="4.2" text-anchor="end" font-weight="bold" fill="#111" stroke="#111" stroke-width="0.12">250K</text>
<text transform="translate(338.60,20.70)" font-size="4.2" text-anchor="end" font-weight="bold" fill="#111" stroke="#111" stroke-width="0.12">200K</text>
<text transform="translate(338.60,33.90)" font-size="4.2" text-anchor="end" font-weight="bold" fill="#111" stroke="#111" stroke-width="0.12">150K</text>
<text transform="translate(338.60,47.20)" font-size="4.2" text-anchor="end" font-weight="bold" fill="#111" stroke="#111" stroke-width="0.12">100K</text>
<text transform="translate(338.60,60.40)" font-size="4.2" text-anchor="end" font-weight="bold" fill="#111" stroke="#111" stroke-width="0.12">50K</text>
<text transform="translate(338.60,73.20)" font-size="4.2" text-anchor="end" font-weight="bold" fill="#111" stroke="#111" stroke-width="0.12">0</text>
<text transform="translate(340.60,79.00)" font-size="4.2" text-anchor="middle" font-weight="bold" fill="#111" stroke="#111" stroke-width="0.12">0</text>
<text transform="translate(353.60,79.00)" font-size="4.2" text-anchor="middle" font-weight="bold" fill="#111" stroke="#111" stroke-width="0.12">50K</text>
<text transform="translate(367.40,79.00)" font-size="4.2" text-anchor="middle" font-weight="bold" fill="#111" stroke="#111" stroke-width="0.12">100K</text>
<text transform="translate(380.80,79.00)" font-size="4.2" text-anchor="middle" font-weight="bold" fill="#111" stroke="#111" stroke-width="0.12">150K</text>
<text transform="translate(393.60,79.00)" font-size="4.2" text-anchor="middle" font-weight="bold" fill="#111" stroke="#111" stroke-width="0.12">200K</text>
<text transform="translate(406.20,79.00)" font-size="4.2" text-anchor="middle" font-weight="bold" fill="#111" stroke="#111" stroke-width="0.12">250K</text>
<text transform="translate(320.60,38.70) rotate(-90)" font-size="11.2" text-anchor="middle" fill="#000">SSC</text>
<text transform="translate(372.80,91.80)" font-size="11.2" text-anchor="middle" fill="#000">FSC-H</text>
<rect x="447.8" y="3.2" width="69.00" height="68.30" fill="#fff" stroke="#cfcfcf" stroke-width="0.9"/>
<clipPath id="c3"><rect x="448.1" y="3.5" width="68.40" height="67.70"/></clipPath>
<g clip-path="url(#c3)">
<g filter="url(#st)">
<path d="M466 35L472 33L481 32.5L490 33.5L493 42L493 52L494.5 62L494 72L470 72L466 50Z" fill="#000" fill-opacity="0.66"/>
<ellipse cx="485.4" cy="40.6" rx="5.4" ry="7.2" fill="#000" fill-opacity="0.5"/>
<path d="M447 50L492 50L493.5 72L447 72Z" fill="#000" fill-opacity="0.4"/>
<path d="M447 33L470 33L470 50L447 50Z" fill="#000" fill-opacity="0.22"/>
</g>
<path d="M449.6 41C449.4 37 452 35 456 35.2C461 35.4 466 37.6 468 41.4C469.4 44.4 468.6 47.4 466 47.8C462 48.4 457 48 453.6 46.4C451 45.2 449.8 43.4 449.6 41Z" fill="#000" filter="url(#b1)"/>
<ellipse cx="457.00" cy="41.40" rx="5.40" ry="4.50" fill="#111" stroke="#f2f2f2" stroke-width="0.9" transform="rotate(25 457.00 41.40)"/>
<ellipse cx="456.90" cy="41.40" rx="4.20" ry="3.50" fill="#b4b4b4" stroke="none" stroke-width="0.5" transform="rotate(25 456.90 41.40)" filter="url(#b1)"/>
<ellipse cx="457.20" cy="41.20" rx="2.00" ry="1.70" fill="#8a8a8a" stroke="none" stroke-width="0.5" transform="rotate(25 457.20 41.20)" filter="url(#b1)"/>
<ellipse cx="485.40" cy="40.80" rx="3.10" ry="4.70" fill="#000" stroke="none" stroke-width="0.5" filter="url(#b1)"/>
<path d="M449.6 62C449.4 56 452.6 52.8 458 52.8C462 52.8 465 54.6 468 55.2C471 55.6 474 55.8 476.4 57.6C478.4 55 481 52.6 484.4 52.6C488.6 52.8 490.8 57.6 490.8 63C490.8 67.4 489.4 71.6 486 72L452 72C450 69.6 449.6 66 449.6 62Z" fill="#000" filter="url(#b1)"/>
<ellipse cx="457.50" cy="64.00" rx="7.00" ry="8.20" fill="#0a0a0a" stroke="#f4f4f4" stroke-width="1.05"/>
<ellipse cx="457.50" cy="64.00" rx="4.90" ry="5.74" fill="#5c5c5c" stroke="#f4f4f4" stroke-width="1.0"/>
<ellipse cx="457.50" cy="64.00" rx="2.94" ry="3.44" fill="#222" stroke="#f4f4f4" stroke-width="0.85"/>
<ellipse cx="457.50" cy="64.00" rx="1.12" ry="1.31" fill="#000" stroke="none" stroke-width="0"/>
<ellipse cx="470.40" cy="63.60" rx="4.70" ry="5.90" fill="#6a6a6a" stroke="#f4f4f4" stroke-width="1.05"/>
<ellipse cx="470.80" cy="64.00" rx="1.90" ry="2.90" fill="#555" stroke="#ededed" stroke-width="0.7"/>
<ellipse cx="484.40" cy="62.80" rx="5.30" ry="8.20" fill="#5a5a5a" stroke="#f4f4f4" stroke-width="1.05"/>
<ellipse cx="484.20" cy="62.60" rx="3.20" ry="5.60" fill="#111" stroke="none" stroke-width="0.5" filter="url(#b2)"/>
</g>
<rect x="448.8" y="32.3" width="20" height="16.2" fill="none" stroke="#a8a8a8" stroke-width="0.6"/>
<text transform="translate(445.60,10.30)" font-size="3.9" text-anchor="end" font-weight="bold" fill="#111" stroke="#111" stroke-width="0.12">10<tspan font-size="2.6" dy="-1.6">5</tspan></text>
<text transform="translate(445.60,25.50)" font-size="3.9" text-anchor="end" font-weight="bold" fill="#111" stroke="#111" stroke-width="0.12">10<tspan font-size="2.6" dy="-1.6">4</tspan></text>
<text transform="translate(445.60,40.90)" font-size="3.9" text-anchor="end" font-weight="bold" fill="#111" stroke="#111" stroke-width="0.12">10<tspan font-size="2.6" dy="-1.6">3</tspan></text>
<text transform="translate(445.60,57.70)" font-size="3.9" text-anchor="end" font-weight="bold" fill="#111" stroke="#111" stroke-width="0.12">10<tspan font-size="2.6" dy="-1.6">2</tspan></text>
<text transform="translate(445.60,65.60)" font-size="3.9" text-anchor="end" font-weight="bold" fill="#111" stroke="#111" stroke-width="0.12">0</text>
<text transform="translate(456.60,77.40)" font-size="3.9" text-anchor="middle" font-weight="bold" fill="#111" stroke="#111" stroke-width="0.12">0</text>
<text transform="translate(463.40,77.40)" font-size="3.9" text-anchor="middle" font-weight="bold" fill="#111" stroke="#111" stroke-width="0.12">10<tspan font-size="2.6" dy="-1.6">2</tspan></text>
<text transform="translate(479.30,77.40)" font-size="3.9" text-anchor="middle" font-weight="bold" fill="#111" stroke="#111" stroke-width="0.12">10<tspan font-size="2.6" dy="-1.6">3</tspan></text>
<text transform="translate(495.00,77.40)" font-size="3.9" text-anchor="middle" font-weight="bold" fill="#111" stroke="#111" stroke-width="0.12">10<tspan font-size="2.6" dy="-1.6">4</tspan></text>
<text transform="translate(511.50,77.40)" font-size="3.9" text-anchor="middle" font-weight="bold" fill="#111" stroke="#111" stroke-width="0.12">10<tspan font-size="2.6" dy="-1.6">5</tspan></text>
<text transform="translate(433.40,37.00) rotate(-90)" font-size="11.2" text-anchor="middle" fill="#000">NK1.1</text>
<text transform="translate(482.80,91.20)" font-size="11.2" text-anchor="middle" fill="#000">CD3/Vivid</text>
<rect x="231.6" y="95.5" width="68.90" height="68.20" fill="#fff" stroke="#cfcfcf" stroke-width="0.9"/>
<path d="M236.2 150C235.8 144 237.4 139 241 138.6C244 138.4 246 141.6 249 141.4C252.6 140.6 255 138.8 258.4 138.8C262.6 139 265.2 143.4 265.2 148C265.2 152.6 262.6 156.4 258.4 156.6C254.6 156.6 252 154.4 249 154C246 154 244 156.8 241 156.6C238 156.4 236.4 153.6 236.2 150Z" fill="#444" stroke="#000" stroke-width="0.9"/>
<ellipse cx="241.00" cy="148.20" rx="3.70" ry="7.40" fill="#3c3c3c" stroke="#000" stroke-width="0.7"/>
<ellipse cx="240.90" cy="148.60" rx="2.40" ry="5.00" fill="#2e2e2e" stroke="#000" stroke-width="0.6"/>
<ellipse cx="240.80" cy="149.20" rx="1.10" ry="2.60" fill="#000" stroke="none" stroke-width="0.5"/>
<ellipse cx="256.80" cy="148.40" rx="7.20" ry="7.70" fill="#505050" stroke="#000" stroke-width="0.7"/>
<ellipse cx="256.80" cy="148.60" rx="5.60" ry="5.80" fill="#666" stroke="#0a0a0a" stroke-width="0.6"/>
<ellipse cx="256.80" cy="148.80" rx="4.00" ry="4.00" fill="#7c7c7c" stroke="#111" stroke-width="0.55"/>
<ellipse cx="256.90" cy="148.80" rx="2.50" ry="2.50" fill="#909090" stroke="#1a1a1a" stroke-width="0.5"/>
<ellipse cx="257.00" cy="148.80" rx="1.10" ry="1.10" fill="#b4b4b4" stroke="#333" stroke-width="0.4"/>
<path d="M236 163.4H262" stroke="#999" stroke-width="0.6"/>
<text transform="translate(229.60,100.30)" font-size="4.2" text-anchor="end" font-weight="bold" fill="#111" stroke="#111" stroke-width="0.12">250K</text>
<text transform="translate(229.60,113.30)" font-size="4.2" text-anchor="end" font-weight="bold" fill="#111" stroke="#111" stroke-width="0.12">200K</text>
<text transform="translate(229.60,126.50)" font-size="4.2" text-anchor="end" font-weight="bold" fill="#111" stroke="#111" stroke-width="0.12">150K</text>
<text transform="translate(229.60,139.10)" font-size="4.2" text-anchor="end" font-weight="bold" fill="#111" stroke="#111" stroke-width="0.12">100K</text>
<text transform="translate(229.60,152.30)" font-size="4.2" text-anchor="end" font-weight="bold" fill="#111" stroke="#111" stroke-width="0.12">50K</text>
<text transform="translate(229.60,165.30)" font-size="4.2" text-anchor="end" font-weight="bold" fill="#111" stroke="#111" stroke-width="0.12">0</text>
<text transform="translate(240.20,171.00)" font-size="3.9" text-anchor="middle" font-weight="bold" fill="#111" stroke="#111" stroke-width="0.12">0</text>
<text transform="translate(246.40,171.00)" font-size="3.9" text-anchor="middle" font-weight="bold" fill="#111" stroke="#111" stroke-width="0.12">10<tspan font-size="2.6" dy="-1.6">2</tspan></text>
<text transform="translate(262.00,171.00)" font-size="3.9" text-anchor="middle" font-weight="bold" fill="#111" stroke="#111" stroke-width="0.12">10<tspan font-size="2.6" dy="-1.6">3</tspan></text>
<text transform="translate(278.80,171.00)" font-size="3.9" text-anchor="middle" font-weight="bold" fill="#111" stroke="#111" stroke-width="0.12">10<tspan font-size="2.6" dy="-1.6">4</tspan></text>
<text transform="translate(293.80,171.00)" font-size="3.9" text-anchor="middle" font-weight="bold" fill="#111" stroke="#111" stroke-width="0.12">10<tspan font-size="2.6" dy="-1.6">5</tspan></text>
<text transform="translate(212.40,127.80) rotate(-90)" font-size="11.2" text-anchor="middle" fill="#000">SSC</text>
<text transform="translate(264.40,183.80)" font-size="10.899999999999999" text-anchor="middle" fill="#000">NKG2A/C/E</text>
<rect x="340.5" y="95.8" width="68.00" height="69.20" fill="#fff" stroke="#cfcfcf" stroke-width="0.9"/>
<clipPath id="c5"><rect x="340.1" y="95.8" width="68.40" height="69.50"/></clipPath>
<g clip-path="url(#c5)">
<path d="M334.0 146.0C335.5 137.5 335.6 141.4 338.6 136.5C341.6 131.6 340.2 133.5 343.0 131.4C345.8 129.3 344.2 130.1 347.0 130.2C349.8 130.3 348.8 129.9 351.5 131.6C354.2 133.3 353.1 131.4 355.0 135.4C356.9 139.4 356.3 138.1 357.3 143.5C358.3 148.9 356.9 147.8 357.9 151.5C358.9 155.2 358.5 153.2 360.2 154.6C361.9 156.0 361.2 155.8 363.1 155.8C365.0 155.8 364.5 157.2 366.0 154.6C367.5 152.0 366.5 152.9 367.7 148.0C368.9 143.1 368.1 144.0 369.5 140.0C370.9 136.0 370.1 137.7 372.0 136.0C373.9 134.3 372.9 134.9 375.2 134.8C377.5 134.7 376.7 134.5 378.8 135.8C380.9 137.1 380.1 134.7 381.6 138.8C383.1 142.9 382.9 141.4 383.3 148.0C383.7 154.6 383.8 153.7 382.7 158.5C381.6 163.3 382.5 160.8 380.0 162.4C377.5 164.0 378.2 163.3 375.2 163.4C372.2 163.5 373.1 163.5 371.0 162.6C368.9 161.7 370.5 161.9 368.9 160.8C367.3 159.7 368.1 160.2 366.2 159.3C364.3 158.4 365.3 158.0 363.1 158.2C360.9 158.4 362.0 158.4 359.7 159.8C357.4 161.2 358.8 161.2 356.2 162.5C353.6 163.8 354.9 163.3 352.0 163.8C349.1 164.3 351.5 164.1 347.5 164.0C343.5 163.9 344.5 164.3 340.0 163.6C335.5 162.9 336.0 167.9 334.0 162.0C332.0 156.1 332.5 154.5 334.0 146.0Z" fill="#000"/>
<path d="M341.38 156.83C341.38 144.16 343.26 131.80 348.90 131.80C354.54 131.80 356.42 144.16 356.42 156.83C356.42 162.70 352.66 162.70 348.90 162.70C345.14 162.70 341.38 162.70 341.38 156.83Z" fill="#d2d2d2" stroke="none" stroke-width="0"/>
<path d="M342.46 156.24C342.46 144.68 344.07 133.40 348.90 133.40C353.73 133.40 355.34 144.68 355.34 156.24C355.34 161.60 352.12 161.60 348.90 161.60C345.68 161.60 342.46 161.60 342.46 156.24Z" fill="#747474" stroke="none" stroke-width="0"/>
<path d="M343.54 155.66C343.54 145.20 344.88 135.00 348.90 135.00C352.92 135.00 354.26 145.20 354.26 155.66C354.26 160.50 351.58 160.50 348.90 160.50C346.22 160.50 343.54 160.50 343.54 155.66Z" fill="#0c0c0c" stroke="none" stroke-width="0"/>
<path d="M344.62 155.07C344.62 145.72 345.69 136.60 348.90 136.60C352.11 136.60 353.18 145.72 353.18 155.07C353.18 159.40 351.04 159.40 348.90 159.40C346.76 159.40 344.62 159.40 344.62 155.07Z" fill="#dcdcdc" stroke="none" stroke-width="0"/>
<path d="M345.70 154.48C345.70 146.24 346.50 138.20 348.90 138.20C351.30 138.20 352.10 146.24 352.10 154.48C352.10 158.30 350.50 158.30 348.90 158.30C347.30 158.30 345.70 158.30 345.70 154.48Z" fill="#6c6c6c" stroke="none" stroke-width="0"/>
<path d="M346.78 153.89C346.78 146.76 347.31 139.80 348.90 139.80C350.49 139.80 351.02 146.76 351.02 153.89C351.02 157.20 349.96 157.20 348.90 157.20C347.84 157.20 346.78 157.20 346.78 153.89Z" fill="#141414" stroke="none" stroke-width="0"/>
<path d="M347.86 153.31C347.86 147.28 348.12 141.40 348.90 141.40C349.68 141.40 349.94 147.28 349.94 153.31C349.94 156.10 349.42 156.10 348.90 156.10C348.38 156.10 347.86 156.10 347.86 153.31Z" fill="#8c8c8c" stroke="none" stroke-width="0"/>
<ellipse cx="348.60" cy="158.20" rx="2.50" ry="1.60" fill="#000" stroke="#c8c8c8" stroke-width="0.45"/>
<path d="M368.32 157.26C368.32 146.66 370.06 136.32 375.30 136.32C380.54 136.32 382.28 146.66 382.28 157.26C382.28 162.18 378.79 162.18 375.30 162.18C371.81 162.18 368.32 162.18 368.32 157.26Z" fill="#d2d2d2" stroke="none" stroke-width="0"/>
<path d="M369.34 156.72C369.34 147.17 370.83 137.85 375.30 137.85C379.77 137.85 381.26 147.17 381.26 156.72C381.26 161.15 378.28 161.15 375.30 161.15C372.32 161.15 369.34 161.15 369.34 156.72Z" fill="#747474" stroke="none" stroke-width="0"/>
<path d="M370.36 156.18C370.36 147.68 371.60 139.38 375.30 139.38C379.00 139.38 380.24 147.68 380.24 156.18C380.24 160.12 377.77 160.12 375.30 160.12C372.83 160.12 370.36 160.12 370.36 156.18Z" fill="#0c0c0c" stroke="none" stroke-width="0"/>
<path d="M371.38 155.64C371.38 148.18 372.36 140.90 375.30 140.90C378.24 140.90 379.22 148.18 379.22 155.64C379.22 159.10 377.26 159.10 375.30 159.10C373.34 159.10 371.38 159.10 371.38 155.64Z" fill="#dcdcdc" stroke="none" stroke-width="0"/>
<path d="M372.40 155.10C372.40 148.69 373.12 142.43 375.30 142.43C377.48 142.43 378.20 148.69 378.20 155.10C378.20 158.07 376.75 158.07 375.30 158.07C373.85 158.07 372.40 158.07 372.40 155.10Z" fill="#6c6c6c" stroke="none" stroke-width="0"/>
<path d="M373.42 154.56C373.42 149.19 373.89 143.95 375.30 143.95C376.71 143.95 377.18 149.19 377.18 154.56C377.18 157.05 376.24 157.05 375.30 157.05C374.36 157.05 373.42 157.05 373.42 154.56Z" fill="#141414" stroke="none" stroke-width="0"/>
<path d="M374.44 154.02C374.44 149.69 374.66 145.47 375.30 145.47C375.94 145.47 376.16 149.69 376.16 154.02C376.16 156.03 375.73 156.03 375.30 156.03C374.87 156.03 374.44 156.03 374.44 154.02Z" fill="#8c8c8c" stroke="none" stroke-width="0"/>
<ellipse cx="375.20" cy="157.60" rx="1.10" ry="1.10" fill="#f4f4f4" stroke="none" stroke-width="0.5"/>
</g>
<text transform="translate(338.40,105.30)" font-size="3.9" text-anchor="end" font-weight="bold" fill="#111" stroke="#111" stroke-width="0.12">10<tspan font-size="2.6" dy="-1.6">5</tspan></text>
<text transform="translate(338.40,119.60)" font-size="3.9" text-anchor="end" font-weight="bold" fill="#111" stroke="#111" stroke-width="0.12">10<tspan font-size="2.6" dy="-1.6">4</tspan></text>
<text transform="translate(338.40,135.30)" font-size="3.9" text-anchor="end" font-weight="bold" fill="#111" stroke="#111" stroke-width="0.12">10<tspan font-size="2.6" dy="-1.6">3</tspan></text>
<text transform="translate(338.40,151.90)" font-size="3.9" text-anchor="end" font-weight="bold" fill="#111" stroke="#111" stroke-width="0.12">10<tspan font-size="2.6" dy="-1.6">2</tspan></text>
<text transform="translate(338.40,160.00)" font-size="3.9" text-anchor="end" font-weight="bold" fill="#111" stroke="#111" stroke-width="0.12">0</text>
<text transform="translate(348.40,172.20)" font-size="3.9" text-anchor="middle" font-weight="bold" fill="#111" stroke="#111" stroke-width="0.12">0</text>
<text transform="translate(354.40,172.20)" font-size="3.9" text-anchor="middle" font-weight="bold" fill="#111" stroke="#111" stroke-width="0.12">10<tspan font-size="2.6" dy="-1.6">2</tspan></text>
<text transform="translate(372.30,172.20)" font-size="3.9" text-anchor="middle" font-weight="bold" fill="#111" stroke="#111" stroke-width="0.12">10<tspan font-size="2.6" dy="-1.6">3</tspan></text>
<text transform="translate(387.80,172.20)" font-size="3.9" text-anchor="middle" font-weight="bold" fill="#111" stroke="#111" stroke-width="0.12">10<tspan font-size="2.6" dy="-1.6">4</tspan></text>
<text transform="translate(403.20,172.20)" font-size="3.9" text-anchor="middle" font-weight="bold" fill="#111" stroke="#111" stroke-width="0.12">10<tspan font-size="2.6" dy="-1.6">5</tspan></text>
<text transform="translate(323.90,130.90) rotate(-90)" font-size="11.2" text-anchor="middle" fill="#000">Ly49I</text>
<text transform="translate(372.70,184.00)" font-size="11.2" text-anchor="middle" fill="#000">Ly49C</text>
<rect x="448.0" y="96.9" width="69.60" height="69.10" fill="#fff" stroke="#cfcfcf" stroke-width="0.9"/>
<clipPath id="c6"><rect x="448.0" y="96.9" width="69.60" height="69.40"/></clipPath>
<g clip-path="url(#c6)">
<path d="M458.6 118.1C460.9 117.6 460.4 117.5 462.4 118.8C464.4 120.1 464.2 119.4 464.7 122.0C465.2 124.6 465.1 123.7 464.0 126.6C462.9 129.5 463.4 128.9 461.4 130.6C459.4 132.3 460.1 132.1 458.0 131.8C455.9 131.5 456.3 131.9 455.0 129.6C453.7 127.3 454.0 128.1 454.1 125.0C454.2 121.9 453.9 122.7 455.4 120.4C456.9 118.1 456.3 118.6 458.6 118.1Z" fill="#000" stroke="none" stroke-width="0" transform="translate(459.20 125.00) scale(1.0) translate(-459.20 -125.00)"/>
<path d="M458.6 118.1C460.9 117.6 460.4 117.5 462.4 118.8C464.4 120.1 464.2 119.4 464.7 122.0C465.2 124.6 465.1 123.7 464.0 126.6C462.9 129.5 463.4 128.9 461.4 130.6C459.4 132.3 460.1 132.1 458.0 131.8C455.9 131.5 456.3 131.9 455.0 129.6C453.7 127.3 454.0 128.1 454.1 125.0C454.2 121.9 453.9 122.7 455.4 120.4C456.9 118.1 456.3 118.6 458.6 118.1Z" fill="#d4d4d4" stroke="none" stroke-width="0" transform="translate(459.20 125.00) scale(0.84) translate(-459.20 -125.00)"/>
<path d="M458.6 118.1C460.9 117.6 460.4 117.5 462.4 118.8C464.4 120.1 464.2 119.4 464.7 122.0C465.2 124.6 465.1 123.7 464.0 126.6C462.9 129.5 463.4 128.9 461.4 130.6C459.4 132.3 460.1 132.1 458.0 131.8C455.9 131.5 456.3 131.9 455.0 129.6C453.7 127.3 454.0 128.1 454.1 125.0C454.2 121.9 453.9 122.7 455.4 120.4C456.9 118.1 456.3 118.6 458.6 118.1Z" fill="#6e6e6e" stroke="none" stroke-width="0" transform="translate(459.20 125.00) scale(0.68) translate(-459.20 -125.00)"/>
<path d="M458.6 118.1C460.9 117.6 460.4 117.5 462.4 118.8C464.4 120.1 464.2 119.4 464.7 122.0C465.2 124.6 465.1 123.7 464.0 126.6C462.9 129.5 463.4 128.9 461.4 130.6C459.4 132.3 460.1 132.1 458.0 131.8C455.9 131.5 456.3 131.9 455.0 129.6C453.7 127.3 454.0 128.1 454.1 125.0C454.2 121.9 453.9 122.7 455.4 120.4C456.9 118.1 456.3 118.6 458.6 118.1Z" fill="#2a2a2a" stroke="none" stroke-width="0" transform="translate(459.00 125.20) scale(0.48) translate(-459.20 -125.00)"/>
<path d="M458.6 118.1C460.9 117.6 460.4 117.5 462.4 118.8C464.4 120.1 464.2 119.4 464.7 122.0C465.2 124.6 465.1 123.7 464.0 126.6C462.9 129.5 463.4 128.9 461.4 130.6C459.4 132.3 460.1 132.1 458.0 131.8C455.9 131.5 456.3 131.9 455.0 129.6C453.7 127.3 454.0 128.1 454.1 125.0C454.2 121.9 453.9 122.7 455.4 120.4C456.9 118.1 456.3 118.6 458.6 118.1Z" fill="#000" stroke="none" stroke-width="0" transform="translate(458.80 125.40) scale(0.26) translate(-459.20 -125.00)"/>
<path d="M456.2 130.6C457 133 457 135 455.8 137.6L460.4 137.6C459.4 135 459.4 133 460 130.6Z" fill="#000"/>
<path d="M458 132.2V136.4" stroke="#ddd" stroke-width="0.7"/>
<path d="M459.8 136.8C462.1 137.1 461.9 136.7 463.6 138.4C465.3 140.1 464.8 139.5 464.8 142.0C464.8 144.5 463.3 143.3 463.6 146.0C463.9 148.7 464.8 146.7 465.6 150.0C466.4 153.3 466.4 152.1 466.0 156.0C465.6 159.9 466.4 158.8 464.4 161.6C462.4 164.4 463.0 163.8 460.0 164.4C457.0 165.0 457.7 165.5 455.4 163.4C453.1 161.3 453.8 162.1 453.0 158.0C452.2 153.9 452.6 155.3 452.9 151.0C453.2 146.7 453.3 148.5 454.0 145.0C454.7 141.5 454.1 143.1 455.0 140.6C455.9 138.1 455.2 138.9 456.8 137.6C458.4 136.3 457.5 136.5 459.8 136.8Z" fill="#000" stroke="none" stroke-width="0" transform="translate(459.20 151.00) scale(1.0) translate(-459.20 -151.00)"/>
<path d="M459.8 136.8C462.1 137.1 461.9 136.7 463.6 138.4C465.3 140.1 464.8 139.5 464.8 142.0C464.8 144.5 463.3 143.3 463.6 146.0C463.9 148.7 464.8 146.7 465.6 150.0C466.4 153.3 466.4 152.1 466.0 156.0C465.6 159.9 466.4 158.8 464.4 161.6C462.4 164.4 463.0 163.8 460.0 164.4C457.0 165.0 457.7 165.5 455.4 163.4C453.1 161.3 453.8 162.1 453.0 158.0C452.2 153.9 452.6 155.3 452.9 151.0C453.2 146.7 453.3 148.5 454.0 145.0C454.7 141.5 454.1 143.1 455.0 140.6C455.9 138.1 455.2 138.9 456.8 137.6C458.4 136.3 457.5 136.5 459.8 136.8Z" fill="#cfcfcf" stroke="none" stroke-width="0" transform="translate(459.20 151.00) scale(0.88) translate(-459.20 -151.00)"/>
<path d="M459.8 136.8C462.1 137.1 461.9 136.7 463.6 138.4C465.3 140.1 464.8 139.5 464.8 142.0C464.8 144.5 463.3 143.3 463.6 146.0C463.9 148.7 464.8 146.7 465.6 150.0C466.4 153.3 466.4 152.1 466.0 156.0C465.6 159.9 466.4 158.8 464.4 161.6C462.4 164.4 463.0 163.8 460.0 164.4C457.0 165.0 457.7 165.5 455.4 163.4C453.1 161.3 453.8 162.1 453.0 158.0C452.2 153.9 452.6 155.3 452.9 151.0C453.2 146.7 453.3 148.5 454.0 145.0C454.7 141.5 454.1 143.1 455.0 140.6C455.9 138.1 455.2 138.9 456.8 137.6C458.4 136.3 457.5 136.5 459.8 136.8Z" fill="#5a5a5a" stroke="none" stroke-width="0" transform="translate(459.20 151.00) scale(0.76) translate(-459.20 -151.00)"/>
<ellipse cx="459.80" cy="142.20" rx="2.40" ry="2.80" fill="#1a1a1a" stroke="none" stroke-width="0.5"/>
<ellipse cx="458.00" cy="155.40" rx="4.30" ry="6.60" fill="#0a0a0a" stroke="none" stroke-width="0" transform="rotate(-4 458.00 155.40)"/>
<ellipse cx="458.00" cy="155.40" rx="3.53" ry="5.41" fill="#e2e2e2" stroke="none" stroke-width="0" transform="rotate(-4 458.00 155.40)"/>
<ellipse cx="458.00" cy="155.40" rx="2.75" ry="4.22" fill="#555" stroke="none" stroke-width="0" transform="rotate(-4 458.00 155.40)"/>
<ellipse cx="458.00" cy="155.40" rx="1.98" ry="3.04" fill="#000" stroke="none" stroke-width="0" transform="rotate(-4 458.00 155.40)"/>
<ellipse cx="458.00" cy="155.40" rx="1.29" ry="1.98" fill="#e8e8e8" stroke="none" stroke-width="0" transform="rotate(-4 458.00 155.40)"/>
<ellipse cx="458.00" cy="155.40" rx="0.60" ry="0.92" fill="#222" stroke="none" stroke-width="0" transform="rotate(-4 458.00 155.40)"/>
<path d="M474.0 125.2C474.3 123.5 473.9 124.5 476.6 122.4C479.3 120.3 478.2 121.0 482.0 119.0C485.8 117.0 484.2 117.6 488.0 116.4C491.8 115.2 490.6 115.1 493.4 115.4C496.2 115.7 495.4 115.3 496.4 117.4C497.4 119.5 497.1 118.5 496.4 121.6C495.7 124.7 496.5 123.5 494.4 126.6C492.3 129.7 493.3 128.7 490.0 131.0C486.7 133.3 487.9 132.9 484.6 133.6C481.3 134.3 482.5 134.2 480.0 133.0C477.5 131.8 478.4 131.9 477.0 130.0C475.6 128.1 476.8 129.0 475.8 127.4C474.8 125.8 473.7 126.9 474.0 125.2Z" fill="#000" stroke="none" stroke-width="0" transform="translate(486.80 124.60) scale(1.0) translate(-486.80 -124.60)"/>
<path d="M474.0 125.2C474.3 123.5 473.9 124.5 476.6 122.4C479.3 120.3 478.2 121.0 482.0 119.0C485.8 117.0 484.2 117.6 488.0 116.4C491.8 115.2 490.6 115.1 493.4 115.4C496.2 115.7 495.4 115.3 496.4 117.4C497.4 119.5 497.1 118.5 496.4 121.6C495.7 124.7 496.5 123.5 494.4 126.6C492.3 129.7 493.3 128.7 490.0 131.0C486.7 133.3 487.9 132.9 484.6 133.6C481.3 134.3 482.5 134.2 480.0 133.0C477.5 131.8 478.4 131.9 477.0 130.0C475.6 128.1 476.8 129.0 475.8 127.4C474.8 125.8 473.7 126.9 474.0 125.2Z" fill="#dadada" stroke="none" stroke-width="0" transform="translate(486.90 124.60) scale(0.88) translate(-486.80 -124.60)"/>
<path d="M474.0 125.2C474.3 123.5 473.9 124.5 476.6 122.4C479.3 120.3 478.2 121.0 482.0 119.0C485.8 117.0 484.2 117.6 488.0 116.4C491.8 115.2 490.6 115.1 493.4 115.4C496.2 115.7 495.4 115.3 496.4 117.4C497.4 119.5 497.1 118.5 496.4 121.6C495.7 124.7 496.5 123.5 494.4 126.6C492.3 129.7 493.3 128.7 490.0 131.0C486.7 133.3 487.9 132.9 484.6 133.6C481.3 134.3 482.5 134.2 480.0 133.0C477.5 131.8 478.4 131.9 477.0 130.0C475.6 128.1 476.8 129.0 475.8 127.4C474.8 125.8 473.7 126.9 474.0 125.2Z" fill="#6a6a6a" stroke="none" stroke-width="0" transform="translate(487.00 124.60) scale(0.76) translate(-486.80 -124.60)"/>
<path d="M474.0 125.2C474.3 123.5 473.9 124.5 476.6 122.4C479.3 120.3 478.2 121.0 482.0 119.0C485.8 117.0 484.2 117.6 488.0 116.4C491.8 115.2 490.6 115.1 493.4 115.4C496.2 115.7 495.4 115.3 496.4 117.4C497.4 119.5 497.1 118.5 496.4 121.6C495.7 124.7 496.5 123.5 494.4 126.6C492.3 129.7 493.3 128.7 490.0 131.0C486.7 133.3 487.9 132.9 484.6 133.6C481.3 134.3 482.5 134.2 480.0 133.0C477.5 131.8 478.4 131.9 477.0 130.0C475.6 128.1 476.8 129.0 475.8 127.4C474.8 125.8 473.7 126.9 474.0 125.2Z" fill="#0c0c0c" stroke="none" stroke-width="0" transform="translate(487.10 124.60) scale(0.62) translate(-486.80 -124.60)"/>
<path d="M474.0 125.2C474.3 123.5 473.9 124.5 476.6 122.4C479.3 120.3 478.2 121.0 482.0 119.0C485.8 117.0 484.2 117.6 488.0 116.4C491.8 115.2 490.6 115.1 493.4 115.4C496.2 115.7 495.4 115.3 496.4 117.4C497.4 119.5 497.1 118.5 496.4 121.6C495.7 124.7 496.5 123.5 494.4 126.6C492.3 129.7 493.3 128.7 490.0 131.0C486.7 133.3 487.9 132.9 484.6 133.6C481.3 134.3 482.5 134.2 480.0 133.0C477.5 131.8 478.4 131.9 477.0 130.0C475.6 128.1 476.8 129.0 475.8 127.4C474.8 125.8 473.7 126.9 474.0 125.2Z" fill="#e2e2e2" stroke="none" stroke-width="0" transform="translate(487.20 124.60) scale(0.5) translate(-486.80 -124.60)"/>
<path d="M474.0 125.2C474.3 123.5 473.9 124.5 476.6 122.4C479.3 120.3 478.2 121.0 482.0 119.0C485.8 117.0 484.2 117.6 488.0 116.4C491.8 115.2 490.6 115.1 493.4 115.4C496.2 115.7 495.4 115.3 496.4 117.4C497.4 119.5 497.1 118.5 496.4 121.6C495.7 124.7 496.5 123.5 494.4 126.6C492.3 129.7 493.3 128.7 490.0 131.0C486.7 133.3 487.9 132.9 484.6 133.6C481.3 134.3 482.5 134.2 480.0 133.0C477.5 131.8 478.4 131.9 477.0 130.0C475.6 128.1 476.8 129.0 475.8 127.4C474.8 125.8 473.7 126.9 474.0 125.2Z" fill="#707070" stroke="none" stroke-width="0" transform="translate(487.20 124.60) scale(0.38) translate(-486.80 -124.60)"/>
<path d="M474.0 125.2C474.3 123.5 473.9 124.5 476.6 122.4C479.3 120.3 478.2 121.0 482.0 119.0C485.8 117.0 484.2 117.6 488.0 116.4C491.8 115.2 490.6 115.1 493.4 115.4C496.2 115.7 495.4 115.3 496.4 117.4C497.4 119.5 497.1 118.5 496.4 121.6C495.7 124.7 496.5 123.5 494.4 126.6C492.3 129.7 493.3 128.7 490.0 131.0C486.7 133.3 487.9 132.9 484.6 133.6C481.3 134.3 482.5 134.2 480.0 133.0C477.5 131.8 478.4 131.9 477.0 130.0C475.6 128.1 476.8 129.0 475.8 127.4C474.8 125.8 473.7 126.9 474.0 125.2Z" fill="#0a0a0a" stroke="none" stroke-width="0" transform="translate(487.20 124.60) scale(0.24) translate(-486.80 -124.60)"/>
<path d="M474.0 125.2C474.3 123.5 473.9 124.5 476.6 122.4C479.3 120.3 478.2 121.0 482.0 119.0C485.8 117.0 484.2 117.6 488.0 116.4C491.8 115.2 490.6 115.1 493.4 115.4C496.2 115.7 495.4 115.3 496.4 117.4C497.4 119.5 497.1 118.5 496.4 121.6C495.7 124.7 496.5 123.5 494.4 126.6C492.3 129.7 493.3 128.7 490.0 131.0C486.7 133.3 487.9 132.9 484.6 133.6C481.3 134.3 482.5 134.2 480.0 133.0C477.5 131.8 478.4 131.9 477.0 130.0C475.6 128.1 476.8 129.0 475.8 127.4C474.8 125.8 473.7 126.9 474.0 125.2Z" fill="#bbb" stroke="none" stroke-width="0" transform="translate(487.20 124.60) scale(0.1) translate(-486.80 -124.60)"/>
<path d="M473.6 123.6L477.4 123.2L477 127.2L473.8 126.2Z" fill="#000"/>
<path d="M468.2 151.8C468.7 149.8 468.4 150.7 471.0 148.6C473.6 146.5 471.9 147.0 476.0 145.6C480.1 144.2 478.7 144.3 483.4 144.3C488.1 144.3 486.5 144.2 490.0 145.6C493.5 147.0 492.2 146.3 493.8 148.6C495.4 150.9 494.9 149.8 494.8 152.6C494.7 155.4 495.3 154.4 493.6 157.0C491.9 159.6 493.4 158.8 489.6 160.4C485.8 162.0 486.7 161.7 482.2 161.8C477.7 161.9 479.4 161.9 476.0 160.8C472.6 159.7 474.1 160.5 472.0 158.4C469.9 156.3 470.9 156.8 469.6 154.6C468.3 152.4 467.7 153.8 468.2 151.8Z" fill="#000" stroke="none" stroke-width="0" transform="translate(483.60 153.60) scale(1.0) translate(-483.60 -153.60)"/>
<path d="M468.2 151.8C468.7 149.8 468.4 150.7 471.0 148.6C473.6 146.5 471.9 147.0 476.0 145.6C480.1 144.2 478.7 144.3 483.4 144.3C488.1 144.3 486.5 144.2 490.0 145.6C493.5 147.0 492.2 146.3 493.8 148.6C495.4 150.9 494.9 149.8 494.8 152.6C494.7 155.4 495.3 154.4 493.6 157.0C491.9 159.6 493.4 158.8 489.6 160.4C485.8 162.0 486.7 161.7 482.2 161.8C477.7 161.9 479.4 161.9 476.0 160.8C472.6 159.7 474.1 160.5 472.0 158.4C469.9 156.3 470.9 156.8 469.6 154.6C468.3 152.4 467.7 153.8 468.2 151.8Z" fill="#dadada" stroke="none" stroke-width="0" transform="translate(483.60 153.60) scale(0.9) translate(-483.60 -153.60)"/>
<path d="M468.2 151.8C468.7 149.8 468.4 150.7 471.0 148.6C473.6 146.5 471.9 147.0 476.0 145.6C480.1 144.2 478.7 144.3 483.4 144.3C488.1 144.3 486.5 144.2 490.0 145.6C493.5 147.0 492.2 146.3 493.8 148.6C495.4 150.9 494.9 149.8 494.8 152.6C494.7 155.4 495.3 154.4 493.6 157.0C491.9 159.6 493.4 158.8 489.6 160.4C485.8 162.0 486.7 161.7 482.2 161.8C477.7 161.9 479.4 161.9 476.0 160.8C472.6 159.7 474.1 160.5 472.0 158.4C469.9 156.3 470.9 156.8 469.6 154.6C468.3 152.4 467.7 153.8 468.2 151.8Z" fill="#6a6a6a" stroke="none" stroke-width="0" transform="translate(483.80 153.60) scale(0.79) translate(-483.60 -153.60)"/>
<path d="M468.2 151.8C468.7 149.8 468.4 150.7 471.0 148.6C473.6 146.5 471.9 147.0 476.0 145.6C480.1 144.2 478.7 144.3 483.4 144.3C488.1 144.3 486.5 144.2 490.0 145.6C493.5 147.0 492.2 146.3 493.8 148.6C495.4 150.9 494.9 149.8 494.8 152.6C494.7 155.4 495.3 154.4 493.6 157.0C491.9 159.6 493.4 158.8 489.6 160.4C485.8 162.0 486.7 161.7 482.2 161.8C477.7 161.9 479.4 161.9 476.0 160.8C472.6 159.7 474.1 160.5 472.0 158.4C469.9 156.3 470.9 156.8 469.6 154.6C468.3 152.4 467.7 153.8 468.2 151.8Z" fill="#0c0c0c" stroke="none" stroke-width="0" transform="translate(483.90 153.60) scale(0.66) translate(-483.60 -153.60)"/>
<path d="M468.2 151.8C468.7 149.8 468.4 150.7 471.0 148.6C473.6 146.5 471.9 147.0 476.0 145.6C480.1 144.2 478.7 144.3 483.4 144.3C488.1 144.3 486.5 144.2 490.0 145.6C493.5 147.0 492.2 146.3 493.8 148.6C495.4 150.9 494.9 149.8 494.8 152.6C494.7 155.4 495.3 154.4 493.6 157.0C491.9 159.6 493.4 158.8 489.6 160.4C485.8 162.0 486.7 161.7 482.2 161.8C477.7 161.9 479.4 161.9 476.0 160.8C472.6 159.7 474.1 160.5 472.0 158.4C469.9 156.3 470.9 156.8 469.6 154.6C468.3 152.4 467.7 153.8 468.2 151.8Z" fill="#e2e2e2" stroke="none" stroke-width="0" transform="translate(484.00 153.60) scale(0.55) translate(-483.60 -153.60)"/>
<path d="M468.2 151.8C468.7 149.8 468.4 150.7 471.0 148.6C473.6 146.5 471.9 147.0 476.0 145.6C480.1 144.2 478.7 144.3 483.4 144.3C488.1 144.3 486.5 144.2 490.0 145.6C493.5 147.0 492.2 146.3 493.8 148.6C495.4 150.9 494.9 149.8 494.8 152.6C494.7 155.4 495.3 154.4 493.6 157.0C491.9 159.6 493.4 158.8 489.6 160.4C485.8 162.0 486.7 161.7 482.2 161.8C477.7 161.9 479.4 161.9 476.0 160.8C472.6 159.7 474.1 160.5 472.0 158.4C469.9 156.3 470.9 156.8 469.6 154.6C468.3 152.4 467.7 153.8 468.2 151.8Z" fill="#6a6a6a" stroke="none" stroke-width="0" transform="translate(484.10 153.60) scale(0.43) translate(-483.60 -153.60)"/>
<path d="M468.2 151.8C468.7 149.8 468.4 150.7 471.0 148.6C473.6 146.5 471.9 147.0 476.0 145.6C480.1 144.2 478.7 144.3 483.4 144.3C488.1 144.3 486.5 144.2 490.0 145.6C493.5 147.0 492.2 146.3 493.8 148.6C495.4 150.9 494.9 149.8 494.8 152.6C494.7 155.4 495.3 154.4 493.6 157.0C491.9 159.6 493.4 158.8 489.6 160.4C485.8 162.0 486.7 161.7 482.2 161.8C477.7 161.9 479.4 161.9 476.0 160.8C472.6 159.7 474.1 160.5 472.0 158.4C469.9 156.3 470.9 156.8 469.6 154.6C468.3 152.4 467.7 153.8 468.2 151.8Z" fill="#0a0a0a" stroke="none" stroke-width="0" transform="translate(484.10 153.60) scale(0.3) translate(-483.60 -153.60)"/>
<path d="M468.2 151.8C468.7 149.8 468.4 150.7 471.0 148.6C473.6 146.5 471.9 147.0 476.0 145.6C480.1 144.2 478.7 144.3 483.4 144.3C488.1 144.3 486.5 144.2 490.0 145.6C493.5 147.0 492.2 146.3 493.8 148.6C495.4 150.9 494.9 149.8 494.8 152.6C494.7 155.4 495.3 154.4 493.6 157.0C491.9 159.6 493.4 158.8 489.6 160.4C485.8 162.0 486.7 161.7 482.2 161.8C477.7 161.9 479.4 161.9 476.0 160.8C472.6 159.7 474.1 160.5 472.0 158.4C469.9 156.3 470.9 156.8 469.6 154.6C468.3 152.4 467.7 153.8 468.2 151.8Z" fill="#777" stroke="none" stroke-width="0" transform="translate(484.10 153.60) scale(0.17) translate(-483.60 -153.60)"/>
<path d="M467.6 150.2L471.4 150L471 154.6L468 153.6Z" fill="#000"/>
</g>
<text transform="translate(445.80,105.20)" font-size="3.9" text-anchor="end" font-weight="bold" fill="#111" stroke="#111" stroke-width="0.12">10<tspan font-size="2.6" dy="-1.6">5</tspan></text>
<text transform="translate(445.80,120.60)" font-size="3.9" text-anchor="end" font-weight="bold" fill="#111" stroke="#111" stroke-width="0.12">10<tspan font-size="2.6" dy="-1.6">4</tspan></text>
<text transform="translate(445.80,136.40)" font-size="3.9" text-anchor="end" font-weight="bold" fill="#111" stroke="#111" stroke-width="0.12">10<tspan font-size="2.6" dy="-1.6">3</tspan></text>
<text transform="translate(445.80,152.70)" font-size="3.9" text-anchor="end" font-weight="bold" fill="#111" stroke="#111" stroke-width="0.12">10<tspan font-size="2.6" dy="-1.6">2</tspan></text>
<text transform="translate(445.80,160.60)" font-size="3.9" text-anchor="end" font-weight="bold" fill="#111" stroke="#111" stroke-width="0.12">0</text>
<text transform="translate(457.00,172.00)" font-size="3.9" text-anchor="middle" font-weight="bold" fill="#111" stroke="#111" stroke-width="0.12">0</text>
<text transform="translate(463.60,172.00)" font-size="3.9" text-anchor="middle" font-weight="bold" fill="#111" stroke="#111" stroke-width="0.12">10<tspan font-size="2.6" dy="-1.6">2</tspan></text>
<text transform="translate(480.30,172.00)" font-size="3.9" text-anchor="middle" font-weight="bold" fill="#111" stroke="#111" stroke-width="0.12">10<tspan font-size="2.6" dy="-1.6">3</tspan></text>
<text transform="translate(496.00,172.00)" font-size="3.9" text-anchor="middle" font-weight="bold" fill="#111" stroke="#111" stroke-width="0.12">10<tspan font-size="2.6" dy="-1.6">4</tspan></text>
<text transform="translate(512.00,172.00)" font-size="3.9" text-anchor="middle" font-weight="bold" fill="#111" stroke="#111" stroke-width="0.12">10<tspan font-size="2.6" dy="-1.6">5</tspan></text>
<text transform="translate(434.40,131.20) rotate(-90)" font-size="11.2" text-anchor="middle" fill="#000">Ly49A</text>
<text transform="translate(482.00,184.60)" font-size="11.2" text-anchor="middle" fill="#000">Ly49G2</text>
</g>
</svg>
</body></html>
